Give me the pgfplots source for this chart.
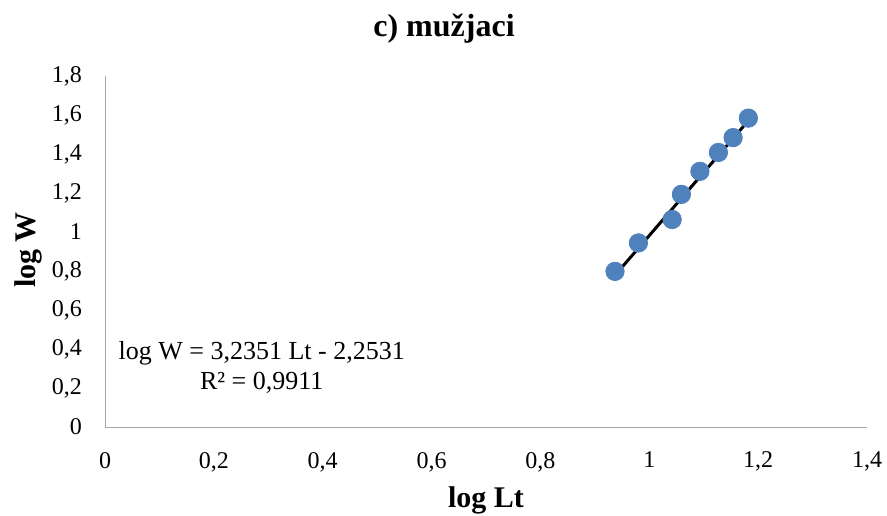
\documentclass[border=0pt]{standalone}
\usepackage{pgfplots}
\pgfplotsset{compat=1.18}
\usepackage{fontspec}
\setmainfont{Liberation Serif}
\definecolor{ptblue}{HTML}{4F81BD}
\definecolor{axgray}{HTML}{A6A6A6}
\begin{document}
\begin{tikzpicture}
\useasboundingbox (0,0) rectangle (443.5pt,257.5pt);
\begin{axis}[
  scale only axis,
  width=381pt, height=175.5pt,
  at={(52.5pt,44pt)}, anchor=south west,
  xmin=0, xmax=1.4, ymin=0, ymax=1.8,
  axis x line*=bottom, axis y line*=left,
  axis line style={draw=axgray, line width=0.5pt},
  xtick={0,0.2,0.4,0.6,0.8,1,1.2,1.4},
  ytick={0,0.2,0.4,0.6,0.8,1,1.2,1.4,1.6,1.8},
  major tick length=0pt,
  /pgf/number format/use comma,
  /pgf/number format/assume math mode=true,
  tick label style={font=\fontsize{12}{14}\selectfont},
  xticklabel style={yshift=-9pt},
  yticklabel style={xshift=-8pt},
  clip=false,
]
\addplot[only marks, mark=*, mark size=4.6pt, mark options={fill=ptblue, draw=ptblue}] coordinates {
  (0.937,0.798) (0.980,0.944) (1.042,1.064) (1.059,1.193)
  (1.093,1.311) (1.127,1.408) (1.154,1.484) (1.182,1.584)
};
\addplot[black, line width=1.5pt] coordinates {(0.937,0.778) (1.182,1.571)};
\node[align=center, font=\fontsize{13}{15}\selectfont] at (axis cs:0.288,0.307)
  {log W = 3,2351 Lt - 2,2531\\R² = 0,9911};
\end{axis}
\node[font=\fontsize{16}{19}\bfseries] at (222pt,243pt) {c) mužjaci};
\node[font=\fontsize{15}{18}\bfseries] at (243pt,7.5pt) {log Lt};
\node[font=\fontsize{15}{18}\bfseries, rotate=90] at (14pt,132.5pt) {log W};
\end{tikzpicture}
\end{document}
